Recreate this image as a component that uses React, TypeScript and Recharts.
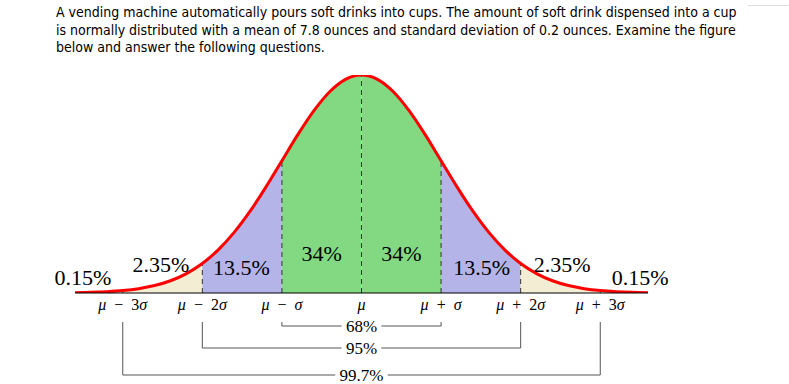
import React from 'react';
import {
  ComposedChart, Area, Line, XAxis, YAxis, ReferenceLine, ReferenceDot,
} from 'recharts';

// standard normal curve in steps of 0.2 sigma
const zGrid = [
  -3.6, -3.4, -3.2, -3.0, -2.8, -2.6, -2.4, -2.2, -2.0, -1.8, -1.6, -1.4, -1.2,
  -1.0, -0.8, -0.6, -0.4, -0.2, 0, 0.2, 0.4, 0.6, 0.8, 1.0, 1.2, 1.4, 1.6,
  1.8, 2.0, 2.2, 2.4, 2.6, 2.8, 3.0, 3.2, 3.4, 3.6,
];
const density = [
  0.0006, 0.0012, 0.0024, 0.0044, 0.0079, 0.0136, 0.0224, 0.0355, 0.054, 0.079,
  0.1109, 0.1497, 0.1942, 0.242, 0.2897, 0.3332, 0.3683, 0.391, 0.3989, 0.391,
  0.3683, 0.3332, 0.2897, 0.242, 0.1942, 0.1497, 0.1109, 0.079, 0.054, 0.0355,
  0.0224, 0.0136, 0.0079, 0.0044, 0.0024, 0.0012, 0.0006,
];

// sigma marks and the bands between them
const sigmaTicks = [-3, -2, -1, 0, 1, 2, 3];
const bandColors = ['#f3eed3', '#b4b4e8', '#82d982', '#82d982', '#b4b4e8', '#f3eed3'];
const bandLabels = ['0.15%', '2.35%', '13.5%', '34%', '34%', '13.5%', '2.35%', '0.15%'];
const ruleLabels = ['68%', '95%', '99.7%'];
const ruleSpans = [1, 2, 3];

const title = [
  'A vending machine automatically pours soft drinks into cups. The amount of soft drink dispensed into a cup',
  'is normally distributed with a mean of 7.8 ounces and standard deviation of 0.2 ounces. Examine the figure',
  'below and answer the following questions.',
];

// layout
const W = 789;
const H = 384;
const PLOT_TOP = 75;
const PLOT_H = 218;
const Y_MAX = 0.3989;
const SERIF = "'Liberation Serif', 'DejaVu Serif', serif";
const pxDown = (px: number) => -(px * Y_MAX) / PLOT_H; // pixels below the axis, in data units
const pxUp = (px: number) => (px * Y_MAX) / PLOT_H;

const labelZ = [-3.5, -2.52, -1.51, -0.5, 0.5, 1.51, 2.52, 3.5];
const labelRise = [16, 29, 26, 40, 40, 26, 29, 16];
const ruleDrop = [33, 55, 82];
const ruleGap = [0.25, 0.25, 0.33];
const ruleTop = 29;

const near = (a: number, b: number) => Math.abs(a - b) < 1e-6;

const rows = zGrid.map((z, i) => {
  const row: Record<string, number | null> = { z, curve: density[i] };
  bandColors.forEach((_, k) => {
    const lo = sigmaTicks[k];
    const hi = sigmaTicks[k + 1];
    row['b' + k] = z >= lo - 1e-6 && z <= hi + 1e-6 ? density[i] : null;
  });
  return row;
});

const heightAt = (z: number) => density[zGrid.findIndex((v) => near(v, z))];

const SigmaTick = (props: any) => {
  const { x, y, payload } = props;
  const k = payload.value as number;
  const n = Math.abs(k);
  return (
    <text x={x} y={y + 17} textAnchor="middle" fontFamily={SERIF} fontSize={16} fill="#000">
      <tspan fontStyle="italic">μ</tspan>
      {k !== 0 && <tspan>{'\u2002' + (k < 0 ? '−' : '+') + '\u2002' + (n > 1 ? n : '')}</tspan>}
      {k !== 0 && <tspan fontStyle="italic">σ</tspan>}
    </text>
  );
};

export default function App() {
  return (
    <div style={{ position: 'absolute', left: 0, top: 0, width: W, height: H, background: '#fff' }}>
      <div style={{ position: 'absolute', left: 748, top: 5, width: 41, height: 1, background: '#ddd' }} />
      <div
        style={{
          position: 'absolute', left: 56, top: 4, fontFamily: "'DejaVu Sans Condensed', 'Liberation Sans Narrow', sans-serif",
          fontSize: 14, lineHeight: '17.5px', color: '#000', whiteSpace: 'nowrap',
        }}
      >
        {title.map((t) => <div key={t}>{t}</div>)}
      </div>
      <div style={{ position: 'absolute', left: 0, top: 0 }}>
        <ComposedChart
          width={W}
          height={H}
          data={rows}
          margin={{ top: PLOT_TOP, right: 141, bottom: H - PLOT_TOP - PLOT_H - 30, left: 75 }}
        >
          <XAxis
            dataKey="z"
            type="number"
            domain={[-3.6, 3.6]}
            ticks={sigmaTicks}
            interval={0}
            height={30}
            tickLine={false}
            tickSize={0}
            tickMargin={0}
            axisLine={{ stroke: '#000', strokeWidth: 1 }}
            tick={<SigmaTick />}
          />
          <YAxis hide domain={[0, Y_MAX]} allowDataOverflow />
          {bandColors.map((c, k) => (
            <Area
              key={k}
              dataKey={'b' + k}
              type="monotone"
              fill={c}
              fillOpacity={1}
              stroke="none"
              isAnimationActive={false}
              connectNulls={false}
            />
          ))}
          {sigmaTicks.map((z) => (
            <ReferenceLine
              key={'d' + z}
              segment={[{ x: z, y: 0 }, { x: z, y: heightAt(z) }]}
              stroke="#333"
              strokeDasharray="5 4"
              strokeWidth={1}
            />
          ))}
          <Line
            dataKey="curve"
            type="monotone"
            stroke="#ff0000"
            strokeWidth={3}
            dot={false}
            isAnimationActive={false}
          />
          {bandLabels.map((t, i) => (
            <ReferenceDot
              key={'l' + i}
              x={labelZ[i]}
              y={pxUp(labelRise[i])}
              r={1}
              fill="none"
              stroke="none"
              ifOverflow="visible"
              label={{ value: t, position: 'center', fill: '#000', fontSize: 22, fontFamily: SERIF }}
            />
          ))}
          {ruleLabels.map((t, i) => {
            const s = ruleSpans[i];
            const yb = pxDown(ruleDrop[i]);
            const yt = pxDown(ruleTop);
            const stroke = { stroke: '#555', strokeWidth: 1, ifOverflow: 'visible' as const };
            return (
              <React.Fragment key={t}>
                <ReferenceLine segment={[{ x: -s, y: yt }, { x: -s, y: yb }]} {...stroke} />
                <ReferenceLine segment={[{ x: s, y: yt }, { x: s, y: yb }]} {...stroke} />
                <ReferenceLine segment={[{ x: -s, y: yb }, { x: -ruleGap[i], y: yb }]} {...stroke} />
                <ReferenceLine segment={[{ x: ruleGap[i], y: yb }, { x: s, y: yb }]} {...stroke} />
                <ReferenceDot
                  x={0}
                  y={yb}
                  r={1}
                  fill="none"
                  stroke="none"
                  ifOverflow="visible"
                  label={{ value: t, position: 'center', fill: '#000', fontSize: 17, fontFamily: SERIF }}
                />
              </React.Fragment>
            );
          })}
        </ComposedChart>
      </div>
    </div>
  );
}
